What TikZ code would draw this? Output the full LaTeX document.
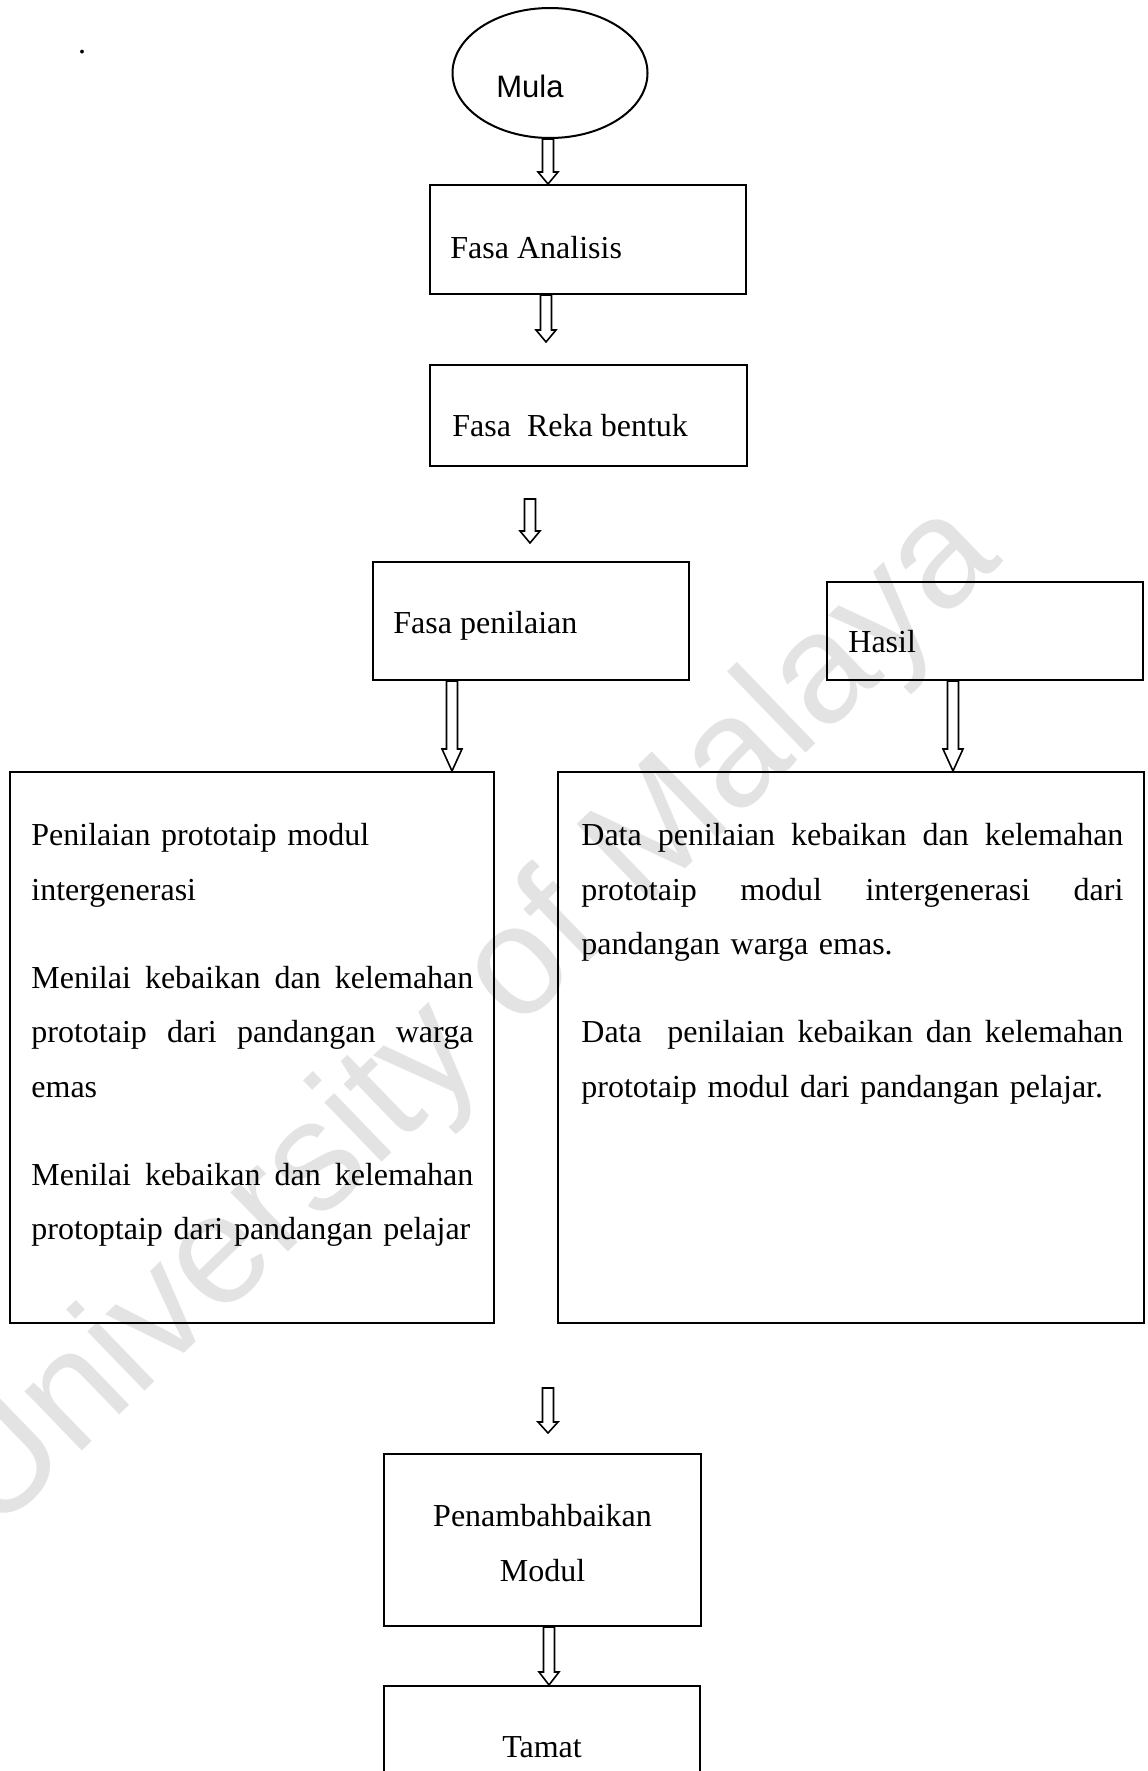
\documentclass[tikz,border=0pt]{standalone}
\usepackage{fontspec}
\setmainfont{Liberation Serif}
\newfontfamily\arialfont{Liberation Sans}
\usetikzlibrary{shapes.geometric,calc}

\tikzset{
  kotak/.style={draw, line width=1pt, inner sep=0pt},
  bujur/.style={draw, ellipse, line width=1pt, inner sep=0pt, minimum width=97.5pt, minimum height=65pt},
  teks/.style={inner sep=0pt, font=\fontsize{16}{27.25}\selectfont},
  anak/.style={draw, line width=0.8pt, line join=miter},
}
\newcommand{\jbaris}[2]{\leavevmode\hbox to #1{\spaceskip=0.25em plus 1fil\relax #2}}
\newcommand{\anakpanah}[3][6pt]{%
  \draw[anak] let \p1=(#2), \p2=(#3) in
    (\x1-2.75pt,\y1) -- (\x1-2.75pt,\y2+#1) -- (\x1-5pt,\y2+#1) -- (\x1,\y2)
    -- (\x1+5pt,\y2+#1) -- (\x1+2.75pt,\y2+#1) -- (\x1+2.75pt,\y1) -- cycle;}

\begin{document}
\begin{tikzpicture}[x=0.5pt,y=-0.5pt]
\useasboundingbox (0,0) rectangle (1147,1771);
\clip (0,0) rectangle (1147,1771);

\node[rotate=44, text=black!11, inner sep=0pt, font=\arialfont\fontsize{78}{82}\selectfont] (cap) at (471,1020) {University of Malaya};

\node[teks, anchor=base] (titik) at (82,54) {.};

\node[bujur] (mula) at (550,73) {};
\node[inner sep=0pt, anchor=base, font=\arialfont\fontsize{15.5}{18}\selectfont] (mula-t) at (530,98) {Mula};

\node[kotak, minimum width=158pt, minimum height=54.5pt] (analisis) at (588,239.5) {};
\node[teks, anchor=base west] (analisis-t) at (450,258) {Fasa Analisis};

\node[kotak, minimum width=158.5pt, minimum height=50.5pt] (reka) at (588.5,415.5) {};
\node[teks, anchor=base west] (reka-t) at (452,436) {Fasa\ \ Reka bentuk};

\node[kotak, minimum width=158pt, minimum height=59pt] (penilaian) at (531,621) {};
\node[teks, anchor=base west] (penilaian-t) at (393,633) {Fasa penilaian};

\node[kotak, minimum width=158pt, minimum height=49pt] (hasil) at (985,631) {};
\node[teks, anchor=base west] (hasil-t) at (848,652) {Hasil};

\node[kotak, minimum width=242pt, minimum height=275.5pt] (kiri) at (252,1047.5) {};
\node[teks, anchor=north west, text width=221pt, align=left] (kiri-t) at (31,823)
  {Penilaian prototaip modul\\
   intergenerasi\\[16.75pt]
   \jbaris{221pt}{Menilai kebaikan dan kelemahan}\\
   \jbaris{221pt}{prototaip dari pandangan warga}\\
   emas\\[16.75pt]
   \jbaris{221pt}{Menilai kebaikan dan kelemahan}\\
   protoptaip dari pandangan pelajar};

\node[kotak, minimum width=293pt, minimum height=275.5pt] (kanan) at (851,1047.5) {};
\node[teks, anchor=north west, text width=271pt, align=left] (kanan-t) at (581,823)
  {\jbaris{271pt}{Data penilaian kebaikan dan kelemahan}\\
   \jbaris{271pt}{prototaip modul intergenerasi dari}\\
   pandangan warga emas.\\[16.75pt]
   \jbaris{271pt}{Data\ \ penilaian kebaikan dan kelemahan}\\
   prototaip modul dari pandangan pelajar.};

\node[kotak, minimum width=158.5pt, minimum height=86pt] (penambah) at (542.5,1540) {};
\node[teks, anchor=north, align=center] (penambah-t) at (542.5,1504) {Penambahbaikan\\ Modul};

\node[kotak, minimum width=158pt, minimum height=100pt] (tamat) at (542,1786) {};
\node[teks, anchor=base] (tamat-t) at (542,1757) {Tamat};

\coordinate (a1) at (548,0);
\coordinate (a2) at (546,342);
\coordinate (a3a) at (530,499);
\coordinate (a3b) at (530,543);
\coordinate (a4) at (452,0);
\coordinate (a5) at (953,0);
\coordinate (a6a) at (548,1388);
\coordinate (a6b) at (548,1433);
\coordinate (a7) at (549,0);

\anakpanah{mula.south -| a1}{analisis.north -| a1}
\anakpanah{analisis.south -| a2}{a2}
\anakpanah{a3a}{a3b}
\anakpanah[11pt]{penilaian.south -| a4}{kiri.north -| a4}
\anakpanah[11pt]{hasil.south -| a5}{kanan.north -| a5}
\anakpanah[5.5pt]{a6a}{a6b}
\anakpanah[6.5pt]{penambah.south -| a7}{tamat.north -| a7}
\end{tikzpicture}
\end{document}
